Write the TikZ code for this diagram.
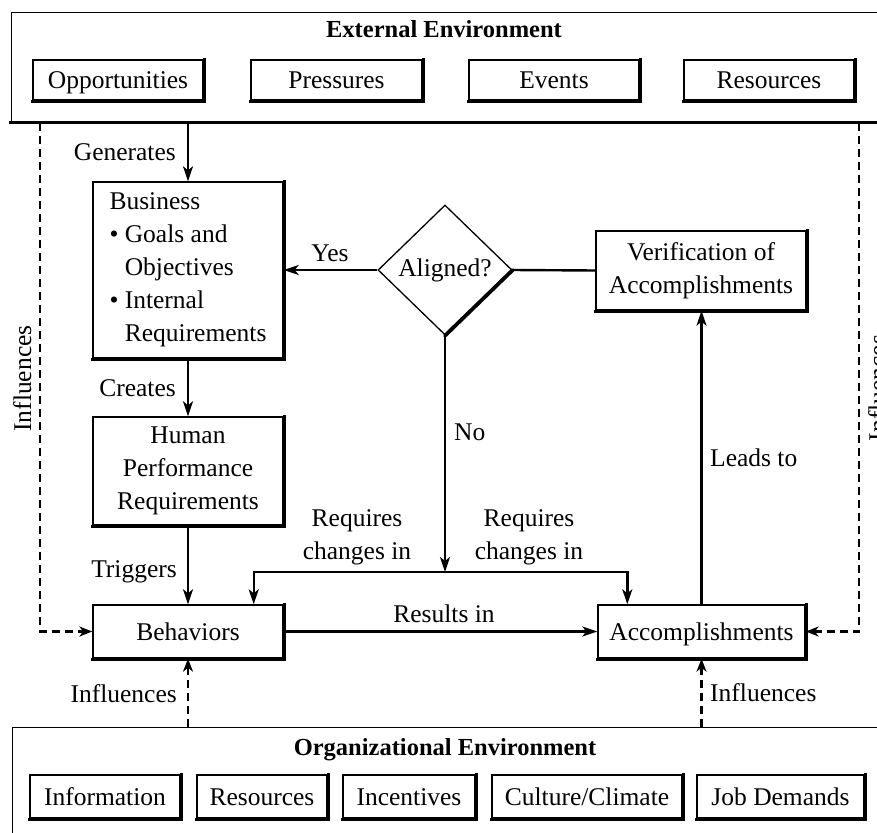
\documentclass[tikz,border=0pt]{standalone}
\usepackage{fontspec}
\setmainfont{Liberation Serif}
\usetikzlibrary{arrows.meta,shapes.geometric,calc}
\begin{document}
\begin{tikzpicture}[x=1pt,y=-1pt,
  font=\fontsize{25.5}{33}\selectfont,
  every node/.style={inner sep=0pt},
  box/.style={draw,line width=1.4pt,fill=white,align=center},
  oneline/.style={text height=18pt,text depth=0pt},
  heavy/.style={line width=3.8pt,line cap=rect},
  conn/.style={line width=2.4pt},
  tip/.style={-{Stealth[length=15pt,width=10pt,inset=4pt]}},
  arr/.style={conn,tip},
  infl/.style={line width=2.8pt,dash pattern=on 8pt off 5pt,-{Stealth[length=13pt,width=10pt,inset=4pt]}},
  ttl/.style={font=\fontsize{24.5}{30}\selectfont\bfseries}
]
\useasboundingbox (0,0) rectangle (877,832);
\fill[white] (0,0) rectangle (877,832);

% --- environments -------------------------------------------------------
\node[draw,line width=1.4pt,minimum width=900pt,minimum height=109pt,anchor=north west] (ext) at (11,12) {};
\draw[heavy] (ext.south west) -- (ext.south east);
\node[ttl,anchor=base] (extt) at (444,38) {External Environment};

\node[draw,line width=1.4pt,minimum width=900pt,minimum height=140pt,anchor=north west] (org) at (12,727) {};
\node[ttl,anchor=base] (orgt) at (445,755) {Organizational Environment};

\node[box,oneline,minimum width=170pt,minimum height=40pt] (opp) at (118,80) {Opportunities};
\node[box,oneline,minimum width=171pt,minimum height=40pt] (pre) at (336.5,80) {Pressures};
\node[box,oneline,minimum width=170pt,minimum height=40pt] (evt) at (554,80) {Events};
\node[box,oneline,minimum width=170pt,minimum height=40pt] (res) at (769,80) {Resources};

\node[box,oneline,minimum width=150pt,minimum height=43pt] (inf) at (105,796.5) {Information};
\node[box,oneline,minimum width=130pt,minimum height=43pt] (ores) at (262,796.5) {Resources};
\node[box,oneline,minimum width=132pt,minimum height=43pt] (inc) at (409,796.5) {Incentives};
\node[box,oneline,minimum width=190pt,minimum height=43pt] (cul) at (587,796.5) {Culture/Climate};
\node[box,oneline,minimum width=167pt,minimum height=43pt] (job) at (780.5,796.5) {Job Demands};

% --- main flow -------------------------------------------------------------
\node[box,align=left,minimum width=190pt,minimum height=176pt] (biz) at (188,270)
  {Business\\\textbullet\ Goals and\\\hphantom{\textbullet\ }Objectives\\\textbullet\ Internal\\\hphantom{\textbullet\ }Requirements};
\node[box,minimum width=190pt,minimum height=108pt] (hum) at (188,471)
  {Human\\Performance\\Requirements};
\node[box,oneline,minimum width=190pt,minimum height=53pt] (beh) at (188,631.5) {Behaviors};
\node[box,oneline,minimum width=207pt,minimum height=53pt] (acc) at (701.5,631.5) {Accomplishments};
\node[box,minimum width=210pt,minimum height=79pt] (ver) at (701,270.5)
  {Verification of\\Accomplishments};
\node[draw,diamond,line width=1.3pt,fill=white,minimum width=134pt,minimum height=130pt] (dia) at (445,270) {Aligned?};
\draw[heavy,line cap=round] (dia.south) -- (dia.east);

% heavy lower and right edges of the boxes
\foreach \n in {opp,pre,evt,res,inf,ores,inc,cul,job,biz,hum,beh,acc,ver}
  \draw[heavy] ([xshift=0.8pt,yshift=-0.8pt]\n.south west) -- ([xshift=0.8pt,yshift=-0.8pt]\n.south east) -- ([xshift=0.8pt,yshift=-0.8pt]\n.north east);

% --- connectors ------------------------------------------------------------
\draw[arr] (ext.south -| biz.north) -- (biz.north);
\draw[arr] (biz) -- (hum);
\draw[arr] (hum) -- (beh);
\draw[arr] (dia.west) -- (biz.east);
\draw[conn] (ver.west) -- (dia.east);
\coordinate (fork) at (445,572);
\draw[arr] (dia.south) -- (fork);
\draw[arr] (fork) -| ([xshift=-30pt]beh.north east);
\draw[arr] (fork) -| ([xshift=30pt]acc.north west);
\draw[arr] (beh) -- (acc);
\draw[arr] (acc.north) -- (acc.north |- ver.south);

\coordinate (lt) at (40,123);
\coordinate (rt) at (859,123);
\draw[infl] (lt) |- (beh.west);
\draw[infl] (rt) |- (acc.east);
\draw[infl] (org.north -| beh.south) -- (beh.south);
\draw[infl] (org.north -| acc.south) -- (acc.south);

% --- labels ----------------------------------------------------------------
\node[anchor=base east] (lgen) at (176,160) {Generates};
\node[anchor=base east] (lcre) at (176,396) {Creates};
\node[anchor=base east] (ltri) at (177,577) {Triggers};
\node[anchor=base east] (linf1) at (177,702) {Influences};
\node[anchor=base west] (linf2) at (710,701) {Influences};
\node[anchor=base] (lyes) at (330,261) {Yes};
\node[anchor=base west] (lno) at (454,440) {No};
\node[anchor=base west] (llead) at (710,466) {Leads to};
\node[anchor=base] (lres) at (444,622) {Results in};
\node[align=center] (lreq1) at (357,537) {Requires\\changes in};
\node[align=center] (lreq2) at (529,537) {Requires\\changes in};
\node[rotate=90,anchor=north] (linf3) at (13,378.5) {Influences};
\node[rotate=90,anchor=north] (linf4) at (868,388) {Influences};
\end{tikzpicture}
\end{document}
